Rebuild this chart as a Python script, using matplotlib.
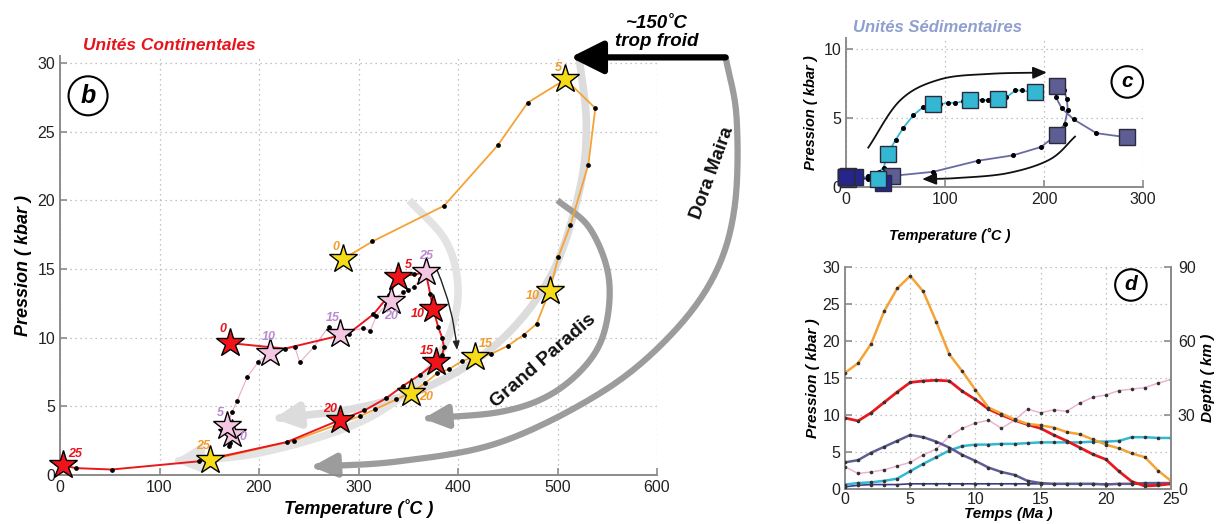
import matplotlib
matplotlib.use("Agg")
import matplotlib.pyplot as plt
import numpy as np
from matplotlib.patches import FancyArrowPatch
from matplotlib.path import Path

plt.rcParams["font.family"] = ["Liberation Sans", "DejaVu Sans"]

# ---------------------------------------------------------------------------
# data: one value per Ma, 0..25 Ma
time_ma = np.arange(26)

# continental units (panel b)
orange_T = [284, 314, 386, 440, 470, 508, 538, 531, 513, 501, 492, 479, 466, 450, 433,
            417, 404, 391, 379, 367, 353, 338, 317, 302, 235, 151]
orange_P = [15.7, 17.0, 19.6, 24.0, 27.1, 28.8, 26.7, 22.6, 18.2, 15.9, 13.4, 11.0, 10.2,
            9.4, 8.8, 8.6, 8.3, 7.7, 7.4, 6.7, 6.0, 5.5, 4.8, 4.3, 2.5, 1.1]
red_T = [171, 226, 290, 315, 331, 340, 356, 364, 368, 372, 375, 380, 384, 386, 384,
         378, 362, 345, 328, 306, 281, 228, 140, 52, 16, 3]
red_P = [9.6, 9.2, 10.3, 11.7, 13.1, 14.4, 14.6, 14.7, 14.6, 13.2, 12.1, 10.8, 10.0,
         9.3, 8.7, 8.2, 7.3, 6.5, 5.6, 4.7, 4.0, 2.4, 1.0, 0.4, 0.5, 0.7]
pink_T = [173, 170, 171, 169, 167, 168, 173, 178, 188, 199, 211, 236, 241, 255, 270,
          281, 305, 312, 318, 328, 333, 345, 350, 356, 362, 368]
pink_P = [3.0, 2.1, 2.3, 2.6, 3.1, 3.6, 4.6, 5.4, 7.1, 8.2, 8.9, 9.3, 8.2, 9.3, 10.8,
          10.3, 10.7, 10.5, 11.6, 12.4, 12.7, 13.3, 13.5, 13.7, 14.3, 14.8]

# sedimentary units (panel c)
cyan_T = [32, 22, 27, 33, 38, 42, 50, 58, 68, 78, 88, 95, 103, 110, 118, 125, 131, 137,
          143, 149, 154, 162, 171, 178, 185, 191]
cyan_P = [0.6, 0.8, 0.9, 1.1, 1.4, 2.4, 3.4, 4.3, 5.2, 5.8, 6.0, 6.0, 6.1, 6.1, 6.2,
          6.3, 6.3, 6.3, 6.3, 6.4, 6.4, 6.5, 7.0, 7.0, 6.9, 6.9]
slate_T = [284, 253, 230, 218, 212, 213, 220, 223, 224, 221, 213, 197, 169, 133, 88,
           46, 38, 30, 22, 12, 2, 2, 2, 2, 2, 2]
slate_P = [3.6, 3.9, 4.9, 5.7, 6.5, 7.3, 7.0, 6.4, 5.6, 4.6, 3.8, 2.9, 2.3, 1.9, 1.1,
           0.8, 0.7, 0.7, 0.7, 0.7, 0.6, 0.7, 0.7, 0.8, 0.8, 0.8]
navy_T = [37, 33, 28, 22, 15, 9, 7, 5, 3, 2, 0, 0, 0, 0, 0, 0, 0, 0, 0, 0, 0, 0, 0, 0, 0, 0]
navy_P = [0.3, 0.5, 0.6, 0.6, 0.6, 0.7, 0.7, 0.7, 0.7, 0.7, 0.7, 0.7, 0.7, 0.7, 0.7,
          0.7, 0.7, 0.7, 0.7, 0.7, 0.7, 0.7, 0.7, 0.7, 0.7, 0.7]

b_xticks = [0, 100, 200, 300, 400, 500, 600]
b_yticks = [0, 5, 10, 15, 20, 25, 30]
c_xticks = [0, 100, 200, 300]
c_yticks = [0, 5, 10]
d_xticks = [0, 5, 10, 15, 20, 25]
d_yticks = [0, 5, 10, 15, 20, 25, 30]
d_depth_ticks = [0, 30, 60, 90]

ORANGE, RED, PINK = "#F5A236", "#E8191E", "#EFA9CC"
CYAN, SLATE, NAVY = "#34B7D3", "#5E5E94", "#26268A"
SPINE = "#8c8c8c"
LBL = dict(fontweight="bold", style="italic")


def smooth(pts, n=16):
    # Catmull-Rom through decoration way-points
    pts = np.asarray(pts, float)
    P = np.vstack([2 * pts[0] - pts[1], pts, 2 * pts[-1] - pts[-2]])
    out = []
    for i in range(1, len(P) - 2):
        p0, p1, p2, p3 = P[i - 1], P[i], P[i + 1], P[i + 2]
        for s in np.linspace(0, 1, n, endpoint=False):
            out.append(0.5 * (2 * p1 + (-p0 + p2) * s + (2 * p0 - 5 * p1 + 4 * p2 - p3) * s ** 2
                              + (-p0 + 3 * p1 - 3 * p2 + p3) * s ** 3))
    out.append(pts[-1])
    return np.array(out)


def arc_arrow(ax, pts, color, lw, hl=0.9, hw=0.55, ms=18, z=1):
    a = FancyArrowPatch(path=Path(smooth(pts)), arrowstyle=f"-|>,head_length={hl},head_width={hw}",
                        mutation_scale=ms, color=color, lw=lw, zorder=z, clip_on=False,
                        capstyle="butt")
    ax.add_patch(a)


def style_axes(ax, right=False):
    for s in ["top", "right"]:
        ax.spines[s].set_visible(False)
    if right:
        ax.spines["right"].set_visible(True)
    for s in ax.spines.values():
        s.set_color(SPINE)
        s.set_linewidth(1.4)
    ax.tick_params(direction="in", color=SPINE, width=1.2, length=5, labelsize=11.5,
                   labelcolor="#222222")
    ax.grid(True, linestyle=(0, (1, 3)), color="#b0b0b0", lw=0.9)
    ax.set_axisbelow(True)


def circle_label(ax, x, y, s, fs):
    ax.text(x, y, s, transform=ax.transAxes, fontsize=fs, ha="center", va="center",
            fontweight="bold", style="italic",
            bbox=dict(boxstyle="circle,pad=0.3", fc="white", ec="black", lw=1.5))


fig = plt.figure(figsize=(12.28, 5.24), dpi=100)
W, H = 1228.0, 524.0

# ---------------------------------------------------------------------------
# panel b
axb = fig.add_axes([60 / W, 49 / H, 597 / W, 419 / H])
axb.set_xlim(0, 600)
axb.set_ylim(0, 30.5)
axb.set_xticks(b_xticks)
axb.set_yticks(b_yticks)
style_axes(axb)
axb.set_xlabel("Temperature (˚C )", fontsize=13, labelpad=3, **LBL)
axb.set_ylabel("Pression ( kbar )", fontsize=13, labelpad=4, **LBL)

# exhumation arrows
arc_arrow(axb, [(522, 30.3), (529, 25.5), (522, 20.7), (494, 14.6), (443, 9.8), (375, 6.6),
                (300, 4.9), (215, 4.1)], "#dcdcdc", 5.5, hl=0.8, hw=0.4)
arc_arrow(axb, [(351, 20.0), (388, 17.0), (400, 13.5), (390, 10.0), (360, 6.8), (300, 3.8),
                (200, 1.6), (114, 1.0)], "#e3e3e3", 5.5, hl=0.8, hw=0.4)
arc_arrow(axb, [(500, 20.0), (532, 18.0), (551, 14.6), (549, 11.0), (532, 8.3), (494, 5.9),
                (443, 4.6), (365, 4.1)], "#9c9c9c", 4.5, hl=0.8, hw=0.38)
arc_arrow(axb, [(669, 30.4), (680, 26.0), (678, 19.5), (658, 14.6), (614, 10.2), (546, 6.1),
                (443, 2.4), (341, 1.0), (253, 0.6)], "#9c9c9c", 4.5, hl=0.8, hw=0.38)
axb.annotate("", xy=(513, 30.4), xytext=(669, 30.4), annotation_clip=False,
             arrowprops=dict(arrowstyle="-|>,head_length=0.9,head_width=0.45", lw=4.5,
                             color="black", mutation_scale=22, shrinkA=0, shrinkB=0))
axb.annotate("", xy=(399, 9.1), xytext=(379, 14.9),
             arrowprops=dict(arrowstyle="-|>,head_length=0.5,head_width=0.2", lw=1,
                             color="#222222", mutation_scale=10, shrinkA=0, shrinkB=0,
                             connectionstyle="arc3,rad=-0.08"), zorder=3)

axb.text(486, 8.3, "Grand Paradis", rotation=41, fontsize=14, fontweight="bold",
         ha="center", va="center", color="#111111", zorder=4)
axb.text(656, 22.0, "Dora Maira", rotation=70, fontsize=13.5, fontweight="bold",
         ha="center", va="center", color="#111111", zorder=4)

units_b = [
    (orange_T, orange_P, ORANGE, "#F6DC16", "#F39C2C", 1.3,
     [(-5, 9), (-5, 8), (-12, -4), (8, 9), (11, -3), (-5, 10)]),
    (pink_T, pink_P, PINK, "#F5C6E1", "#B98AD0", 0.8,
     [(8, -2), (-5, 9), (-1, 11), (-5, 11), (0, -11), (0, 11)]),
    (red_T, red_P, RED, "#F0141A", "#E8141C", 1.4,
     [(-5, 10), (7, 9), (-11, -4), (-7, 8), (-7, 8), (9, 8)]),
]
for T, P, lc, fc, tc, lw, offs in units_b:
    T, P = np.asarray(T), np.asarray(P)
    axb.plot(T, P, color=lc, lw=lw, zorder=5)
    axb.plot(T, P, "o", ms=2.4, color="black", zorder=6)
    axb.plot(T[::5], P[::5], "*", ms=21, mfc=fc, mec="black", mew=1.0, zorder=7, clip_on=False)
    for k, (x, y) in enumerate(zip(T[::5], P[::5])):
        axb.annotate(str(time_ma[::5][k]), (x, y), xytext=offs[k], textcoords="offset points",
                     color=tc, fontsize=9, ha="center", va="center", zorder=8, **LBL)

circle_label(axb, 0.047, 0.905, "b", 18)
fig.text(83 / W, 1 - 45 / H, "Unités Continentales", color="#E8141C", fontsize=12.5,
         ha="left", va="center", **LBL)
fig.text(657 / W, 1 - 23 / H, "~150˚C", fontsize=13.5, ha="center", va="center", **LBL)
fig.text(657 / W, 1 - 42 / H, "trop froid", fontsize=13.5, ha="center", va="center", **LBL)

# ---------------------------------------------------------------------------
# panel c
axc = fig.add_axes([846 / W, (H - 187) / H, 297 / W, 149 / H])
axc.set_xlim(0, 300)
axc.set_ylim(0, 10.8)
axc.set_xticks(c_xticks)
axc.set_yticks(c_yticks)
style_axes(axc)
axc.set_xlabel("Temperature (˚C )", fontsize=10.5, labelpad=15, x=0.35, **LBL)
axc.set_ylabel("Pression ( kbar )", fontsize=10.5, labelpad=4, **LBL)

arc_arrow(axc, [(22, 2.8), (55, 6.3), (95, 7.8), (145, 8.2), (203, 8.3)], "#111111", 1.3,
          hl=0.7, hw=0.3, ms=12, z=3)
arc_arrow(axc, [(232, 3.7), (206, 2.0), (163, 1.0), (112, 0.65), (77, 0.57)], "#111111", 1.3,
          hl=0.7, hw=0.3, ms=12, z=3)

for T, P, lc, fc in [(slate_T, slate_P, "#6a6aa2", SLATE), (navy_T, navy_P, NAVY, NAVY),
                     (cyan_T, cyan_P, CYAN, CYAN)]:
    T, P = np.asarray(T), np.asarray(P)
    axc.plot(T, P, color=lc, lw=1.3, zorder=4)
    axc.plot(T, P, "o", ms=2.6, color="black", zorder=5)
    axc.plot(T[::5], P[::5], "s", ms=11, mfc=fc, mec="#2a2a3a", mew=1.0, zorder=6,
             clip_on=False)

circle_label(axc, 0.947, 0.705, "c", 15)
fig.text(853 / W, 1 - 28 / H, "Unités Sédimentaires", color="#8E9FD0", fontsize=12,
         ha="left", va="center", **LBL)

# ---------------------------------------------------------------------------
# panel d
axd = fig.add_axes([845 / W, (H - 489) / H, 326 / W, 222 / H])
axd.set_xlim(0, 25)
axd.set_ylim(0, 30)
axd.set_xticks(d_xticks)
axd.set_yticks(d_yticks)
style_axes(axd, right=True)
axd.tick_params(axis="x", pad=2)
axd.set_xlabel("Temps (Ma )", fontsize=11, labelpad=0, **LBL)
axd.set_ylabel("Pression ( kbar )", fontsize=11, labelpad=2, **LBL)
axd2 = axd.twinx()
axd2.set_ylim(0, 90)
axd2.set_yticks(d_depth_ticks)
for s in ["top", "left", "bottom"]:
    axd2.spines[s].set_visible(False)
axd2.spines["right"].set_color(SPINE)
axd2.spines["right"].set_linewidth(1.4)
axd2.tick_params(direction="in", color=SPINE, width=1.2, length=5, labelsize=11.5,
                 labelcolor="#222222", pad=5)
axd2.set_ylabel("Depth ( km )", fontsize=11, labelpad=4, **LBL)

for P, c, lw in [(navy_P, "#3a3a8c", 1.2), (pink_P, "#EDB2D2", 1.1), (cyan_P, CYAN, 1.8),
                 (slate_P, SLATE, 1.8), (red_P, RED, 2.0), (orange_P, ORANGE, 1.8)]:
    axd.plot(time_ma, P, color=c, lw=lw, zorder=3)
    axd.plot(time_ma, P, "o", ms=1.6, color="#333333", zorder=4)

circle_label(axd, 0.877, 0.919, "d", 15)

fig.savefig("out.png", dpi=100)
